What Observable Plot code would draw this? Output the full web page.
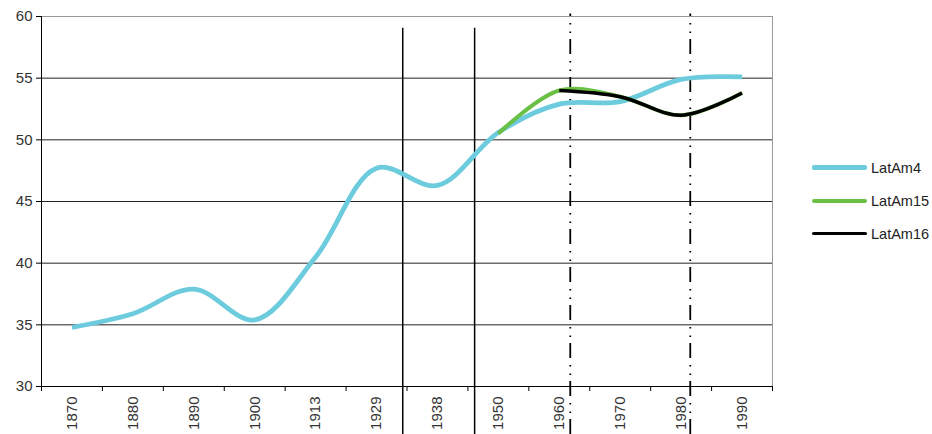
<!DOCTYPE html>
<html>
<head>
<meta charset="utf-8">
<script src="https://cdn.jsdelivr.net/npm/d3@7"></script>
<script src="https://cdn.jsdelivr.net/npm/@observablehq/plot@0.6"></script>
<style>
  body { margin: 0; background: #fff; font-family: "Liberation Sans", Arial, sans-serif; }
  #wrap { position: relative; width: 932px; height: 434px; }
  #legend { position: absolute; left: 812px; top: 151px; font-size: 14.5px; color: #222; }
  .item { display: flex; align-items: center; height: 33px; }
  .sw { width: 55px; margin-right: 4px; border-radius: 2px; }
  #chart svg text { font-size: 15px; }
</style>
</head>
<body>
<div id="wrap">
  <div id="chart"></div>
  <div id="legend"></div>
</div>
<script>
const years = ["1870","1880","1890","1900","1913","1929","1938","1950","1960","1970","1980","1990"];
const latAm4  = [34.8, 35.9, 37.9, 35.4, 40.5, 47.7, 46.3, 50.6, 52.9, 53.1, 54.9, 55.1];
const latAm15 = [null, null, null, null, null, null, null, 50.5, 54.0, 53.5, 52.0, 53.8];
const latAm16 = [null, null, null, null, null, null, null, null, 54.0, 53.5, 52.0, 53.8];
const yTicks = [30, 35, 40, 45, 50, 55, 60];
// vertical marker lines (category-index units)
const solidMarkers = [5.43, 6.61];
const dashMarkers = [8.18, 10.15];

const seriesNames = ["LatAm4", "LatAm15", "LatAm16"];
const seriesColors = ["#6ccbdc", "#6abf45", "#000000"];
const seriesWidths = [4.8, 4, 3.5];
const seriesValues = [latAm4, latAm15, latAm16];

const rows = [];
seriesValues.forEach((vals, s) => vals.forEach((v, i) => {
  if (v != null) rows.push({series: seriesNames[s], i, v});
}));

const idx = d3.range(years.length);
const bounds = d3.range(years.length + 1).map(k => k - 0.5);

const marks = [
  Plot.ruleY([35, 40, 45, 50, 55], {stroke: "#222", strokeWidth: 1}),
  Plot.ruleY([60], {stroke: "#999", strokeWidth: 1}),
  Plot.ruleX([11.5], {y1: 30, y2: 60, stroke: "#999", strokeWidth: 1}),
  Plot.ruleX(solidMarkers, {y1: 26.1, y2: 59.05, stroke: "#000", strokeWidth: 1.5, clip: false}),
  Plot.ruleX(dashMarkers, {y1: 26.1, y2: 60.2, stroke: "#000", strokeWidth: 1.8, strokeDasharray: "15,6,1.5,7,1.5,7", clip: false}),
];
seriesNames.forEach((name, s) => {
  marks.push(Plot.line(rows.filter(r => r.series === name), {
    x: "i", y: "v", stroke: seriesColors[s], strokeWidth: seriesWidths[s],
    curve: "catmull-rom", strokeLinecap: "butt"
  }));
});
marks.push(
  Plot.ruleY([30], {stroke: "#000", strokeWidth: 1}),
  Plot.ruleX([-0.5], {y1: 30, y2: 60, stroke: "#000", strokeWidth: 1}),
  Plot.axisY({ticks: yTicks, tickSize: 5, tickPadding: 4, tickFormat: d => String(d), color: "#333", stroke: "#000", label: null}),
  Plot.axisX({ticks: bounds, tickSize: 5, tickFormat: () => "", stroke: "#000", label: null}),
  Plot.axisX({ticks: idx, tickSize: 0, tickPadding: 10, tickRotate: -90, tickFormat: i => years[i], color: "#333", label: null})
);

const chart = Plot.plot({
  width: 932,
  height: 434,
  marginLeft: 41,
  marginRight: 160,
  marginTop: 16,
  marginBottom: 48,
  style: {fontFamily: "'Liberation Sans', Arial, sans-serif", fontSize: "15px", background: "#fff", overflow: "visible"},
  x: {type: "linear", domain: [-0.5, 11.5]},
  y: {domain: [30, 60]},
  marks
});
document.getElementById("chart").appendChild(chart);

const leg = document.getElementById("legend");
seriesNames.forEach((n, s) => {
  const it = document.createElement("div");
  it.className = "item";
  const sw = document.createElement("div");
  sw.className = "sw";
  sw.style.height = seriesWidths[s] + "px";
  sw.style.background = seriesColors[s];
  const t = document.createElement("span");
  t.textContent = n;
  it.appendChild(sw); it.appendChild(t);
  leg.appendChild(it);
});
</script>
</body>
</html>
